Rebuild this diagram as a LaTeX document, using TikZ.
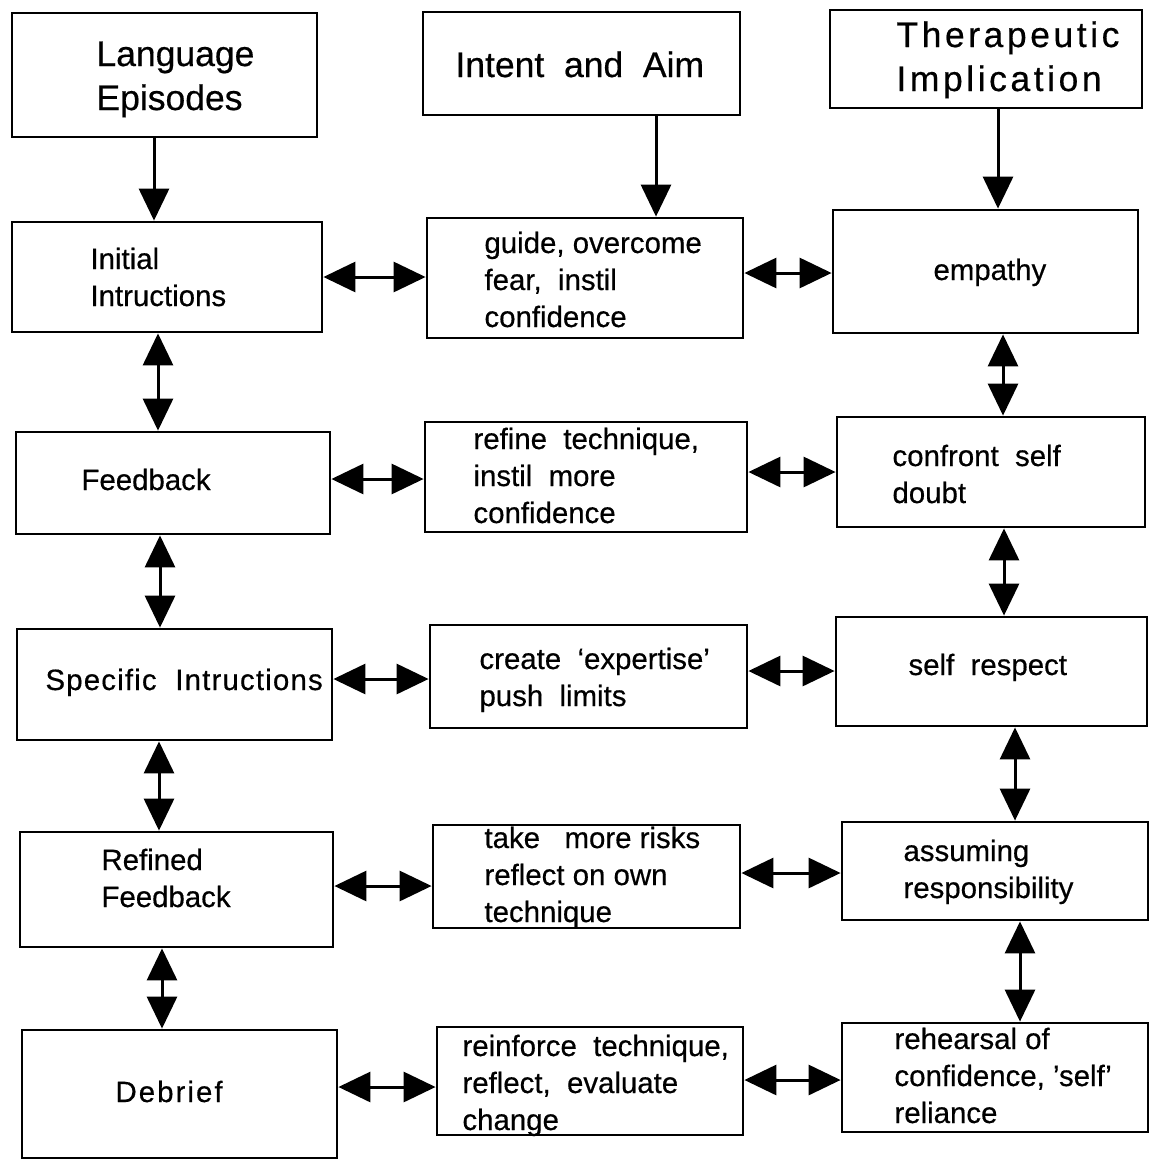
\documentclass[tikz,border=0pt]{standalone}
\usepackage{fontspec}
\setmainfont{Liberation Sans}[FakeBold=0.5]
\usetikzlibrary{arrows.meta}
\tikzset{
	x=0.5pt, y=-0.5pt,
	every path/.style = {line width=1.5pt},
	box/.style = {draw, rectangle, line width=1.4pt, inner sep=0pt},
	txt/.style = {anchor=base west, align=left, inner sep=0pt, font=\fontsize{14.7pt}{18.5pt}\selectfont},
	headtxt/.style = {txt, font=\fontsize{17.75pt}{22pt}\selectfont},
	one/.style = {-{Triangle[length=16pt,width=15pt]}},
	both/.style = {{Triangle[length=16pt,width=15pt]}-{Triangle[length=16pt,width=15pt]}}
}

\begin{document}
\begin{tikzpicture}
	\useasboundingbox (0,0) rectangle (1156,1162);
	% boxes
	\node[box, minimum width=152.5pt, minimum height=62pt] (lang) at (164.5,75) {};
	\node[box, minimum width=155pt, minimum height=55pt] (ini) at (167,277) {};
	\node[box, minimum width=157pt, minimum height=51pt] (fb) at (173,483) {};
	\node[box, minimum width=157.5pt, minimum height=55.5pt] (spec) at (174.5,684.5) {};
	\node[box, minimum width=156.5pt, minimum height=57.5pt] (ref) at (176.5,889.5) {};
	\node[box, minimum width=157.5pt, minimum height=64pt] (deb) at (179.5,1094) {};
	\node[box, minimum width=158.5pt, minimum height=51.5pt] (intent) at (581.5,63.5) {};
	\node[box, minimum width=158pt, minimum height=60pt] (guide) at (585,278) {};
	\node[box, minimum width=161pt, minimum height=55pt] (refine) at (586,477) {};
	\node[box, minimum width=158.5pt, minimum height=51.5pt] (create) at (588.5,676.5) {};
	\node[box, minimum width=153.5pt, minimum height=51.5pt] (take) at (586.5,876.5) {};
	\node[box, minimum width=153pt, minimum height=54pt] (reinf) at (590,1081) {};
	\node[box, minimum width=156pt, minimum height=49pt] (thera) at (986,59) {};
	\node[box, minimum width=152.5pt, minimum height=61.5pt] (emp) at (985.5,271.5) {};
	\node[box, minimum width=154pt, minimum height=55pt] (conf) at (991,472) {};
	\node[box, minimum width=155.5pt, minimum height=54.5pt] (selfr) at (991.5,671.5) {};
	\node[box, minimum width=153pt, minimum height=49pt] (assume) at (995,871) {};
	\node[box, minimum width=153pt, minimum height=54.5pt] (rehe) at (995,1077.5) {};
	% texts (base = last line)
	\node[headtxt] (lang-t) at (95,110) {Language\\Episodes};
	\node[headtxt] (intent-t) at (454,77) {Intent\ \ and\ \ Aim};
	\node[headtxt, font=\fontsize{17.75pt}{22pt}\selectfont\addfontfeature{LetterSpace=10}] (thera-t) at (895,91) {Therapeutic\\Implication};
	\node[txt] (ini-t) at (89,306) {Initial\\Intructions};
	\node[txt] (fb-t) at (80,490) {Feedback};
	\node[txt, font=\fontsize{14.7pt}{18.5pt}\selectfont\addfontfeature{LetterSpace=4}] (spec-t) at (44,690) {Specific\ \ Intructions};
	\node[txt] (ref-t) at (100,907) {Refined\\Feedback};
	\node[txt, font=\fontsize{14.7pt}{18.5pt}\selectfont\addfontfeature{LetterSpace=7}] (deb-t) at (114,1102) {Debrief};
	\node[txt] (guide-t) at (483,327) {guide, overcome\\fear,\ \ instil\\confidence};
	\node[txt] (refine-t) at (472,523) {refine\ \ technique,\\instil\ \ more\\confidence};
	\node[txt] (create-t) at (478,706) {create\ \ ‘expertise’\\push\ \ limits};
	\node[txt] (take-t) at (483,922) {take\ \ \ more risks\\reflect on own\\technique};
	\node[txt] (reinf-t) at (461,1130) {reinforce\ \ technique,\\reflect,\ \ evaluate\\change};
	\node[txt] (emp-t) at (932,280) {empathy};
	\node[txt] (conf-t) at (891,503) {confront\ \ self\\doubt};
	\node[txt] (selfr-t) at (907,675) {self\ \ respect};
	\node[txt] (assume-t) at (902,898) {assuming\\responsibility};
	\node[txt] (rehe-t) at (893,1123) {rehearsal of\\confidence, 'self'\\reliance};
	% headers down
	\draw[one] (lang.south -| 154,0) -- (ini.north -| 154,0);
	\draw[one] (intent.south -| 656,0) -- (guide.north -| 656,0);
	\draw[one] (thera.south -| 998,0) -- (emp.north -| 998,0);
	% first column
	\draw[both] (ini.south -| 158,0) -- (fb.north -| 158,0);
	\draw[both] (fb.south -| 160,0) -- (spec.north -| 160,0);
	\draw[both] (spec.south -| 159,0) -- (ref.north -| 159,0);
	\draw[both] (ref.south -| 162,0) -- (deb.north -| 162,0);
	% third column
	\draw[both] (emp.south -| 1003,0) -- (conf.north -| 1003,0);
	\draw[both] (conf.south -| 1004,0) -- (selfr.north -| 1004,0);
	\draw[both] (selfr.south -| 1015,0) -- (assume.north -| 1015,0);
	\draw[both] (assume.south -| 1020,0) -- (rehe.north -| 1020,0);
	% rows
	\draw[both] (ini.east |- 0,277) -- (guide.west |- 0,277);
	\draw[both] (guide.east |- 0,273) -- (emp.west |- 0,273);
	\draw[both] (fb.east |- 0,479) -- (refine.west |- 0,479);
	\draw[both] (refine.east |- 0,472) -- (conf.west |- 0,472);
	\draw[both] (spec.east |- 0,679) -- (create.west |- 0,679);
	\draw[both] (create.east |- 0,671) -- (selfr.west |- 0,671);
	\draw[both] (ref.east |- 0,886) -- (take.west |- 0,886);
	\draw[both] (take.east |- 0,873) -- (assume.west |- 0,873);
	\draw[both] (deb.east |- 0,1087) -- (reinf.west |- 0,1087);
	\draw[both] (reinf.east |- 0,1080) -- (rehe.west |- 0,1080);
\end{tikzpicture}
\end{document}
